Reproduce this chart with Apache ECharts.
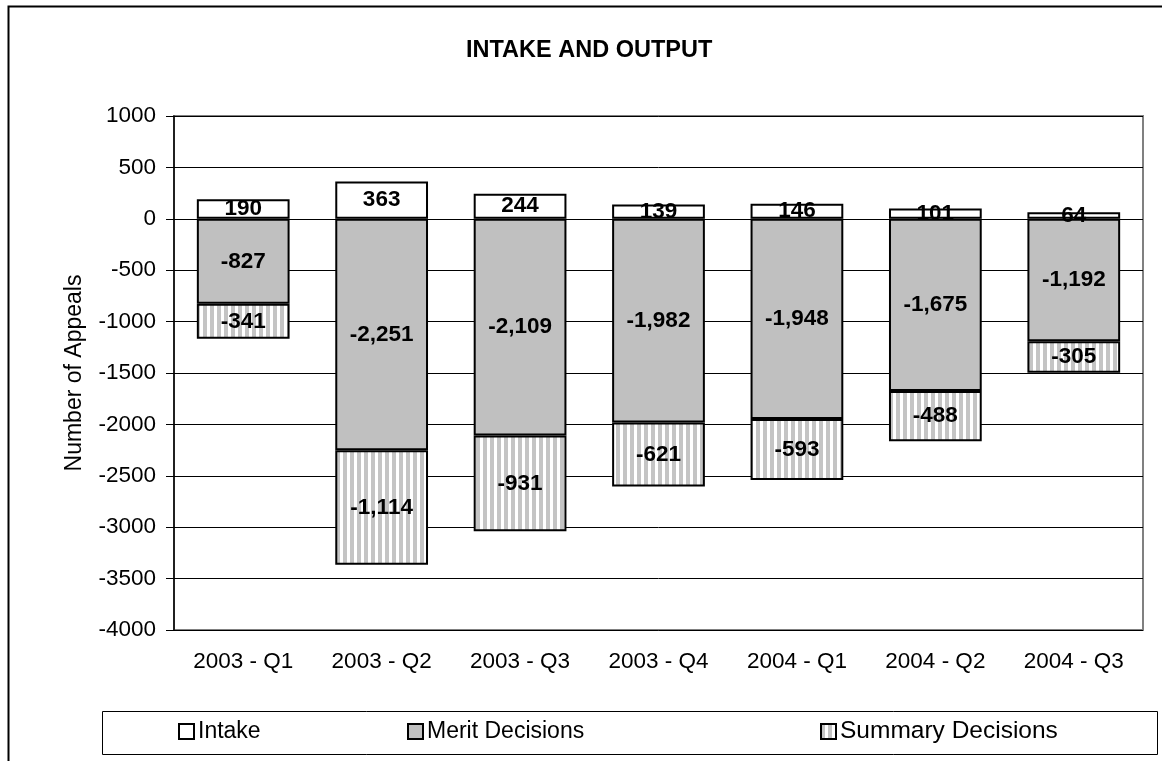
<!DOCTYPE html>
<html>
<head>
<meta charset="utf-8">
<script src="https://cdn.jsdelivr.net/npm/echarts@6/dist/echarts.min.js"></script>
<style>
html,body{margin:0;padding:0;background:#fff;}
#chart{width:1162px;height:761px;}
</style>
</head>
<body>
<div id="chart"></div>
<script>
const categories = ['2003 - Q1','2003 - Q2','2003 - Q3','2003 - Q4','2004 - Q1','2004 - Q2','2004 - Q3'];
const intake = [190, 363, 244, 139, 146, 101, 64];
const merit = [-827, -2251, -2109, -1982, -1948, -1675, -1192];
const summary = [-341, -1114, -931, -621, -593, -488, -305];
const yTicks = [-4000, 1000, 500];

const FONT = '"Liberation Sans", Arial, sans-serif';

function stripes() {
  const c = document.createElement('canvas');
  c.width = 7; c.height = 7;
  const ctx = c.getContext('2d');
  ctx.fillStyle = '#ffffff';
  ctx.fillRect(0, 0, 7, 7);
  ctx.fillStyle = '#c4c4c4';
  ctx.fillRect(0, 0, 4, 7);
  return c;
}
const stripeFill = { image: stripes(), repeat: 'repeat' };

const fmt = p => Number(p.value).toLocaleString('en-US');
const lbl = {
  show: true, position: 'inside', formatter: fmt,
  color: '#000', fontWeight: 'bold', fontSize: 22.5, fontFamily: FONT
};

const legendBase = {
  icon: 'rect', itemWidth: 15, itemHeight: 15, itemGap: 0,
  itemStyle: { borderColor: '#000', borderWidth: 2 }
};

const chart = echarts.init(document.getElementById('chart'));
chart.setOption({
  backgroundColor: '#fff',
  animation: false,
  title: {
    text: 'INTAKE AND OUTPUT',
    left: 466, top: 39, padding: 0,
    textStyle: { fontSize: 23.5, fontWeight: 'bold', color: '#000', fontFamily: FONT }
  },
  graphic: [
    { type: 'rect', left: 6, top: 4, z: 100, silent: true,
      shape: { width: 1200, height: 800 },
      style: { fill: 'none', stroke: '#000', lineWidth: 2 } },
    { type: 'rect', left: 100, top: 709, z: 100, silent: true,
      shape: { width: 1055, height: 43 },
      style: { fill: 'none', stroke: '#000', lineWidth: 1 } }
  ],
  legend: [
    Object.assign({ data: ['Intake'], left: 178, top: 720, padding: 0,
      textStyle: { fontSize: 23, color: '#000', fontFamily: FONT, padding: [0, 0, 0, -1] } }, legendBase),
    Object.assign({ data: ['Merit Decisions'], left: 407, top: 720, padding: 0,
      textStyle: { fontSize: 23, color: '#000', fontFamily: FONT, padding: [0, 0, 0, -1] } }, legendBase),
    Object.assign({ data: ['Summary Decisions'], left: 820, top: 719, padding: 0,
      textStyle: { fontSize: 24.5, color: '#000', fontFamily: FONT, padding: [0, 0, 0, -1] } }, legendBase)
  ],
  grid: {
    left: 174, top: 116, right: 19, bottom: 131,
    show: true, borderColor: '#808080', borderWidth: 2, backgroundColor: '#fff'
  },
  xAxis: {
    type: 'category', data: categories,
    axisLine: { show: false }, axisTick: { show: false },
    axisLabel: { fontSize: 22.5, color: '#000', fontFamily: FONT, margin: 20 }
  },
  yAxis: {
    type: 'value', min: yTicks[0], max: yTicks[1], interval: yTicks[2],
    name: 'Number of Appeals', nameLocation: 'middle', nameGap: 88,
    nameTextStyle: { fontSize: 23, color: '#000', fontFamily: FONT },
    axisLine: { show: true, lineStyle: { color: '#000', width: 1.5 } },
    axisTick: { show: true, length: 8, lineStyle: { color: '#000' } },
    axisLabel: { fontSize: 22.5, color: '#000', fontFamily: FONT, margin: 18,
      formatter: v => String(v) },
    splitLine: { show: true, lineStyle: { color: '#000', width: 1 } }
  },
  series: [
    { name: 'Intake', type: 'bar', stack: 'a', data: intake, barWidth: '67%',
      itemStyle: { color: '#ffffff', borderColor: '#000', borderWidth: 2 }, label: lbl },
    { name: 'Merit Decisions', type: 'bar', stack: 'a', data: merit, barWidth: '67%',
      itemStyle: { color: '#c0c0c0', borderColor: '#000', borderWidth: 2 }, label: lbl },
    { name: 'Summary Decisions', type: 'bar', stack: 'a', data: summary, barWidth: '67%',
      itemStyle: { color: stripeFill, borderColor: '#000', borderWidth: 2 }, label: lbl }
  ]
});
</script>
</body>
</html>
